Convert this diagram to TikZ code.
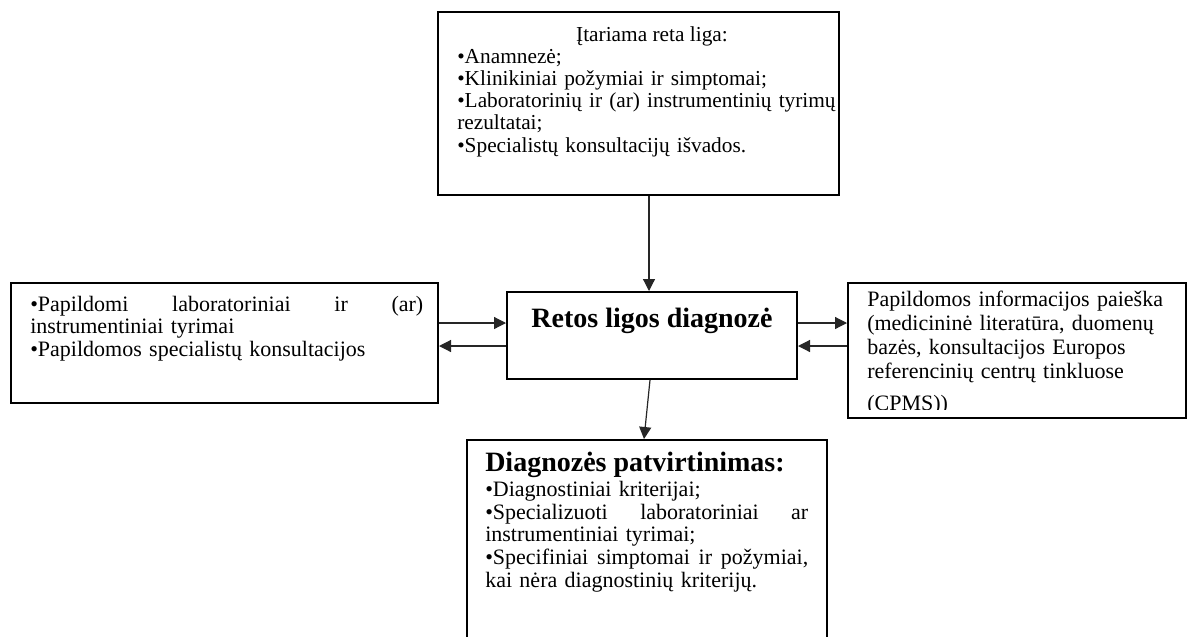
\documentclass[tikz,border=0pt]{standalone}
\usepackage{fontspec}
\setmainfont{Liberation Serif}
\usetikzlibrary{arrows.meta,fit}
\begin{document}
\begin{tikzpicture}[x=0.75pt,y=-0.75pt,
  box/.style={draw=black,line width=1.5pt,inner sep=0pt},
  body/.style={anchor=base west,inner sep=0pt},
  head/.style={anchor=base,inner sep=0pt,font=\fontsize{21pt}{24pt}\selectfont\bfseries},
  link/.style={draw=black!85,line width=0.9pt,-{Triangle[length=9pt,width=9pt]}}]
\clip (0,0) rectangle (1189,636);

% frames
\node[box,fit={(438,12) (839,195)}] (tbox) {};
\node[box,fit={(507,292) (797,379)}] (cbox) {};
\node[box,fit={(11,283) (438,403)}] (lbox) {};
\node[box,fit={(848,283) (1186,418)}] (rbox) {};
\node[box,fit={(467,440) (827,660)}] (bbox) {};

% top frame: suspected rare disease
\node[anchor=base,inner sep=0pt,font=\fontsize{16pt}{16pt}\selectfont] (ttitle) at (652,41) {Įtariama reta liga:};
\node[body,text width=285pt,font=\fontsize{16pt}{16.6pt}\selectfont] (ttext) at (457,63.5)
  {\raggedright
   •Anamnezė;\\
   •Klinikiniai požymiai ir simptomai;\\
   •Laboratorinių ir (ar) instrumentinių tyrimų\\
   rezultatai;\\
   •Specialistų konsultacijų išvados.\par};

% centre frame
\node[head] (ctitle) at (652,327) {Retos ligos diagnozė};

% left frame
\node[body,text width=294.75pt,font=\fontsize{16.5pt}{17pt}\selectfont] (ltext) at (30,311)
  {\raggedright
   \makebox[294.75pt][l]{•Papildomi\hfill laboratoriniai\hfill ir\hfill (ar)}\\
   instrumentiniai tyrimai\\
   •Papildomos specialistų konsultacijos\par};

% right frame, last line cut off by the text area
\begin{scope}
  \clip (rbox.north west) rectangle ([yshift=7.5pt]rbox.south east);
  \node[body,text width=250pt,font=\fontsize{16.5pt}{18pt}\selectfont] (rtext) at (867,306)
    {\raggedright
     Papildomos informacijos paieška\\
     (medicininė literatūra, duomenų\\
     bazės, konsultacijos Europos\\
     referencinių centrų tinkluose\\[6pt]
     (CPMS))\par};
\end{scope}

% bottom frame: confirmation
\node[head,anchor=base west] (btitle) at (485,471) {Diagnozės patvirtinimas:};
\node[body,text width=242.25pt,font=\fontsize{16.5pt}{17pt}\selectfont] (btext) at (485,496.5)
  {\raggedright
   •Diagnostiniai kriterijai;\\
   \makebox[242.25pt][l]{•Specializuoti\hfill laboratoriniai\hfill ar}\\
   instrumentiniai tyrimai;\\
   \makebox[242.25pt][l]{•Specifiniai\hfill simptomai\hfill ir\hfill požymiai,}\\
   kai nėra diagnostinių kriterijų.\par};

% connectors
\coordinate (yin) at (0,323);
\coordinate (yout) at (0,346);
\coordinate (xv) at (649,0);
\coordinate (xa) at (650,0);
\coordinate (xb) at (644,0);
\draw[link] (tbox.south -| xv) -- (cbox.north -| xv);
\draw[link] (lbox.east |- yin) -- (cbox.west |- yin);
\draw[link] (cbox.west |- yout) -- (lbox.east |- yout);
\draw[link] (cbox.east |- yin) -- (rbox.west |- yin);
\draw[link] (rbox.west |- yout) -- (cbox.east |- yout);
\draw[link] (cbox.south -| xa) -- (bbox.north -| xb);
\end{tikzpicture}
\end{document}
